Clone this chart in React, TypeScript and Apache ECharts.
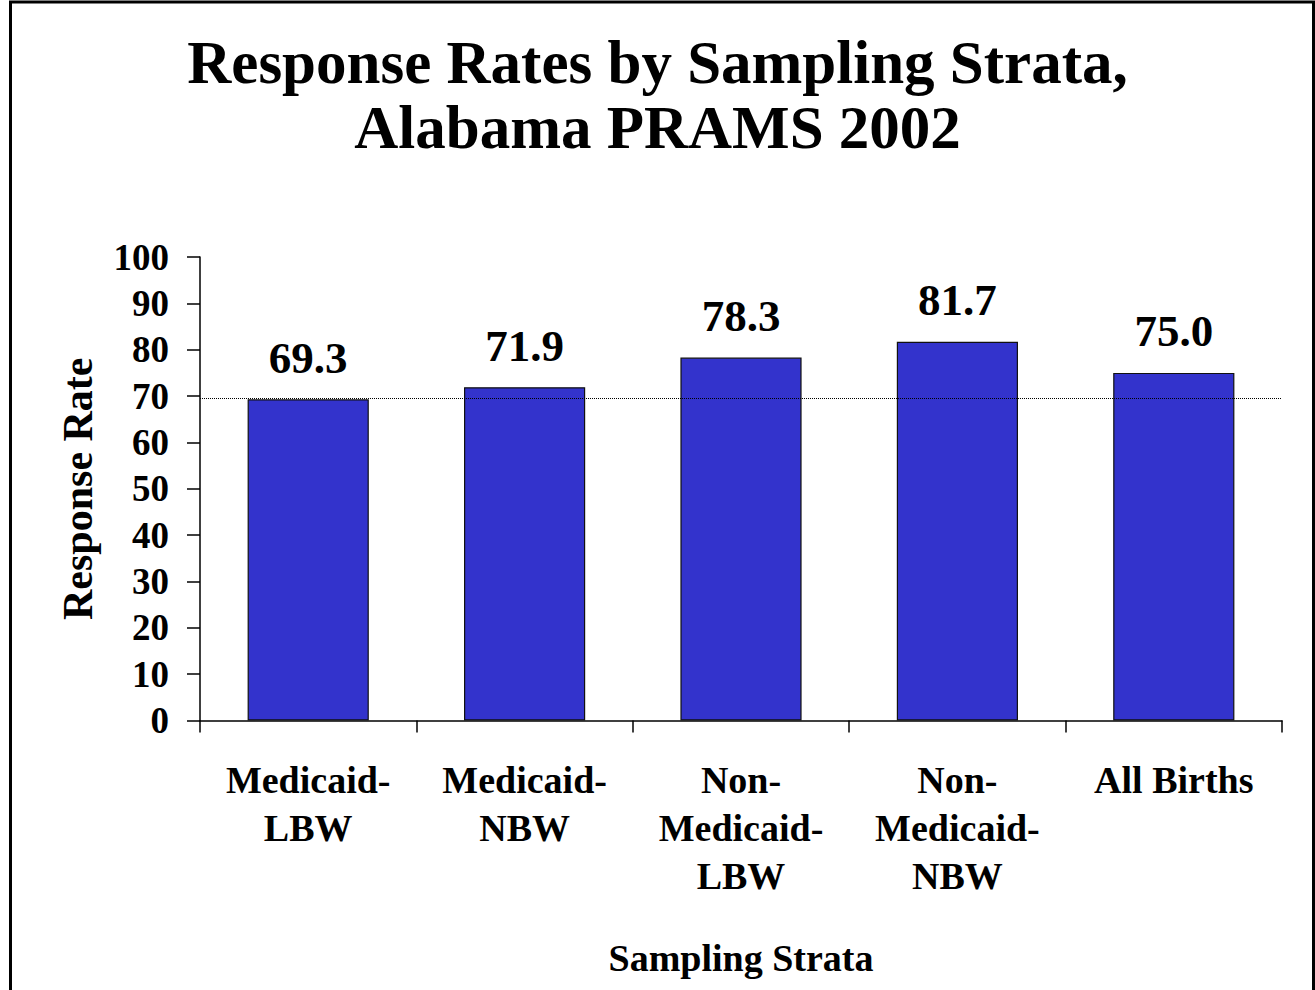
import React, { useEffect, useRef } from "react";
import * as echarts from "echarts";

const categories = ["Medicaid-\nLBW", "Medicaid-\nNBW", "Non-\nMedicaid-\nLBW", "Non-\nMedicaid-\nNBW", "All Births"];
const rates = [69.3, 71.9, 78.3, 81.7, 75.0];
const referenceRate = [69.6];
const titleText = "Response Rates by Sampling Strata,\nAlabama PRAMS 2002";

const FONT = "'Liberation Serif', 'Times New Roman', Times, serif";

export default function App() {
  const ref = useRef<HTMLDivElement>(null);
  useEffect(() => {
    if (!ref.current) return;
    const chart = echarts.init(ref.current, null, { renderer: "svg" });
    chart.setOption({
      animation: false,
      backgroundColor: "#ffffff",
      title: {
        text: titleText,
        left: "center",
        top: 30,
        padding: 0,
        textStyle: { fontFamily: FONT, fontWeight: "bold", fontSize: 61, lineHeight: 65, color: "#000" },
      },
      graphic: [
        {
          type: "rect",
          shape: { x: 10.5, y: 2, width: 1303, height: 1100 },
          style: { fill: "none", stroke: "#000", lineWidth: 3 },
          silent: true,
        },
      ],
      grid: { left: 200, right: 33, top: 257, bottom: 269.5 },
      xAxis: {
        type: "category",
        data: categories,
        name: "Sampling Strata",
        nameLocation: "middle",
        nameGap: 218,
        nameTextStyle: { fontFamily: FONT, fontWeight: "bold", fontSize: 38, lineHeight: 38, color: "#000" },
        axisLine: { lineStyle: { color: "#000", width: 1.5 } },
        axisTick: { show: true, length: 12, lineStyle: { color: "#000", width: 1.5 } },
        axisLabel: {
          interval: 0,
          margin: 35,
          fontFamily: FONT,
          fontWeight: "bold",
          fontSize: 38,
          lineHeight: 48,
          color: "#000",
        },
      },
      yAxis: {
        type: "value",
        min: 0,
        max: 100,
        interval: 10,
        name: "Response Rate",
        nameLocation: "middle",
        nameGap: 101,
        nameRotate: 90,
        nameTextStyle: { fontFamily: FONT, fontWeight: "bold", fontSize: 42, lineHeight: 42, color: "#000" },
        splitLine: { show: false },
        axisLine: { show: true, lineStyle: { color: "#000", width: 1.5 } },
        axisTick: { show: true, length: 13, lineStyle: { color: "#000", width: 1.5 } },
        axisLabel: { margin: 31, fontFamily: FONT, fontWeight: "bold", fontSize: 37, color: "#000" },
      },
      series: [
        {
          type: "bar",
          data: rates,
          barWidth: "56%",
          itemStyle: { color: "#3333CC", borderColor: "#111", borderWidth: 1.2 },
          label: {
            show: true,
            position: "top",
            distance: 19,
            formatter: (p: any) => Number(p.value).toFixed(1),
            fontFamily: FONT,
            fontWeight: "bold",
            fontSize: 45,
            lineHeight: 45,
            color: "#000",
          },
          markLine: {
            silent: true,
            symbol: "none",
            label: { show: false },
            lineStyle: { type: "dotted", color: "#000", width: 1 },
            data: referenceRate.map((v) => ({ yAxis: v })),
          },
        },
      ],
    });
    return () => chart.dispose();
  }, []);
  return (
    <div
      ref={ref}
      style={{ position: "absolute", left: 0, top: 0, width: 1315, height: 990 }}
    />
  );
}
